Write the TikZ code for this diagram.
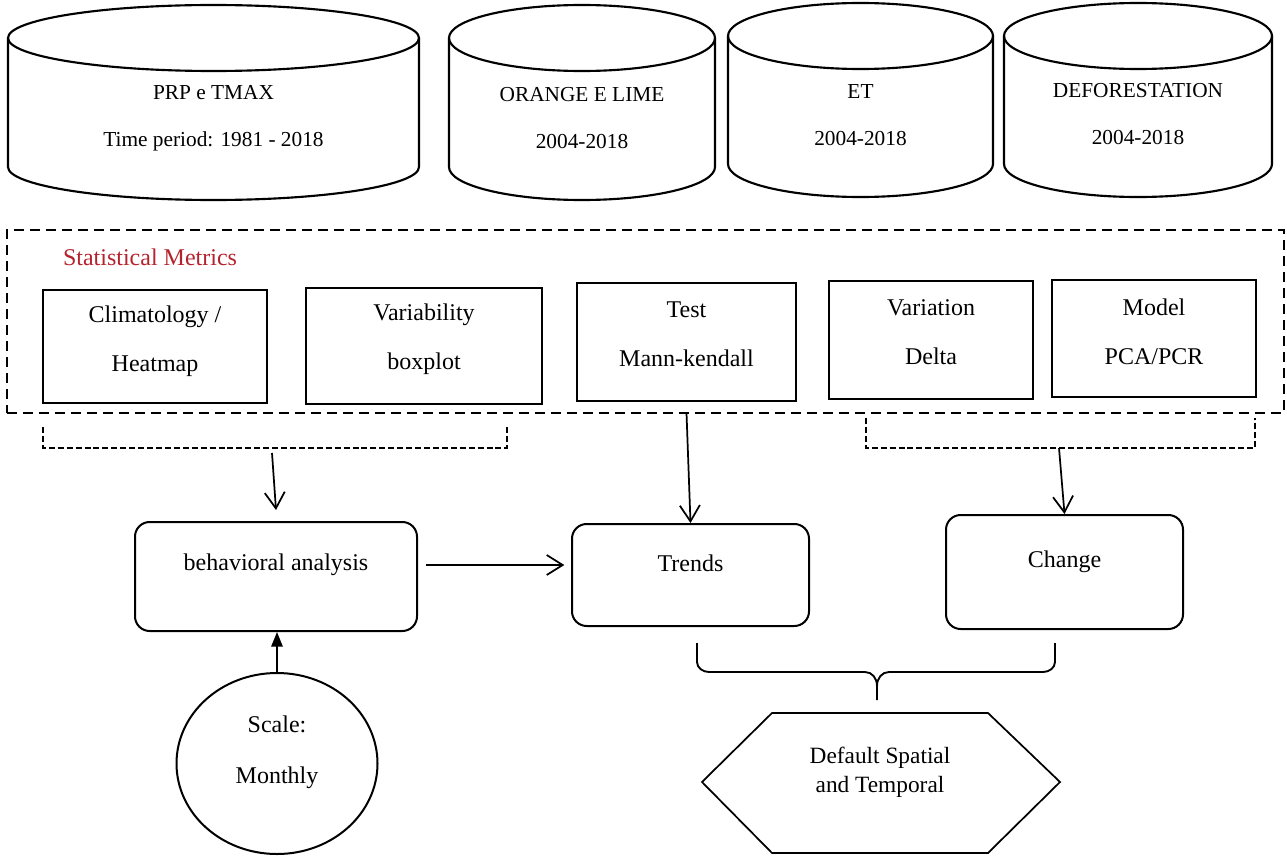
\documentclass[tikz,border=0pt]{standalone}
\usepackage{fontspec}
\setmainfont{Liberation Serif}
\usetikzlibrary{arrows.meta,shapes.geometric,calc}
\def\PX{0.75pt}
\definecolor{metred}{RGB}{180,35,45}
\tikzset{
 ln/.style={line width=1.4pt},
 cylline/.style={line width=1.6pt},
 cyltext/.style={font=\fontsize{16}{35}\selectfont, align=center, inner sep=0pt},
 mbox/.style={draw, line width=1.5pt, inner sep=0pt},
 mtext/.style={font=\fontsize{18}{37}\selectfont, align=center, inner sep=0pt},
 rbox/.style={draw, line width=1.5pt, rounded corners=11pt, inner sep=0pt},
 bigdash/.style={line width=1.6pt, dash pattern=on 7.5pt off 4.5pt},
 smalldash/.style={line width=1.2pt, dash pattern=on 4.5pt off 2.2pt},
 arr/.style={line width=1.3pt, -{Straight Barb[length=12pt,width=15pt,line width=1.3pt]}},
 tri/.style={line width=1.5pt, -{Triangle[length=11pt,width=8.5pt]}},
}
\newcommand{\drawcyl}[4]{%
  \pgfmathsetmacro\cylcx{(#1+#2)/2}%
  \pgfmathsetmacro\cylrx{(#2-#1)/2}%
  \draw[cylline] (\cylcx,#3) ellipse [x radius=\cylrx, y radius=33];
  \draw[cylline] (#1,#3) -- (#1,#4) .. controls (#1,#4+18.2) and (\cylcx-0.5523*\cylrx,#4+33) .. (\cylcx,#4+33) .. controls (\cylcx+0.5523*\cylrx,#4+33) and (#2,#4+18.2) .. (#2,#4) -- (#2,#3);
}
\begin{document}
\begin{tikzpicture}[x=0.75pt,y=-0.75pt]
\useasboundingbox (0,0) rectangle (1287,856);

% data stores
\drawcyl{8}{419}{38}{167}
\drawcyl{449}{715}{38}{167}
\drawcyl{728}{993}{36}{164}
\drawcyl{1004}{1272}{36}{164}
\node[cyltext] (prp) at (213.5,118.5) {PRP e TMAX\\Time period: 1981 - 2018};
\node[cyltext] (orange) at (582,118) {ORANGE E LIME\\2004-2018};
\node[cyltext] (et) at (860.5,115) {ET\\2004-2018};
\node[cyltext] (defo) at (1138,114) {DEFORESTATION\\2004-2018};

% statistical metrics group
\node[draw, bigdash, inner sep=0pt, minimum width=1277*\PX, minimum height=183*\PX] (metrics) at (645.5,321.5) {};
\node[font=\fontsize{18}{20}\selectfont, text=metred, inner sep=0pt] (smet) at (150,257) {Statistical Metrics};

\node[mbox, minimum width=224*\PX, minimum height=113*\PX] (clim) at (155,346) {};
\node[mtext] (climt) at (155,341.5) {Climatology /\\Heatmap};
\node[mbox, minimum width=236*\PX, minimum height=116*\PX] (varb) at (424,346) {};
\node[mtext] (varbt) at (424,339.5) {Variability\\boxplot};
\node[mbox, minimum width=219*\PX, minimum height=118*\PX] (test) at (686.5,342) {};
\node[mtext] (testt) at (686.5,334) {Test\\Mann-kendall};
\node[mbox, minimum width=204*\PX, minimum height=118*\PX] (vari) at (931,340) {};
\node[mtext] (varit) at (931,332) {Variation\\Delta};
\node[mbox, minimum width=204*\PX, minimum height=117*\PX] (model) at (1154,338.5) {};
\node[mtext] (modelt) at (1154,331.5) {Model\\PCA/PCR};

% dashed brackets
\coordinate (lb) at (272,448);
\coordinate (rb) at (1059,448);
\coordinate (tstart) at (686.5,413);
\draw[smalldash] (43,427) -- (43,448) -- (507,448) -- (507,427);
\draw[smalldash] (866,418) -- (866,448) -- (1255,448) -- (1255,418);

% analysis boxes
\node[rbox, minimum width=282*\PX, minimum height=109*\PX] (bb) at (276,576.5) {};
\node[mtext] (bbt) at (276,565) {behavioral analysis};
\node[rbox, minimum width=237*\PX, minimum height=102*\PX] (trends) at (690.5,575) {};
\node[mtext] (trendst) at (690.5,563) {Trends};
\node[rbox, minimum width=237*\PX, minimum height=114*\PX] (change) at (1064.5,572) {};
\node[mtext] (changet) at (1064.5,562) {Change};

% scale
\node[draw, ellipse, line width=1.5pt, inner sep=0pt, minimum width=201*\PX, minimum height=181*\PX] (scale) at (277,763.5) {};
\node[font=\fontsize{18}{38}\selectfont, align=center, inner sep=0pt] (scalet) at (277,752.5) {Scale:\\Monthly};

% output
\node[font=\fontsize{17.5}{22}\selectfont, align=center, inner sep=0pt] (hex) at (880,772) {Default Spatial\\and Temporal};
\draw[line width=1.3pt] (702,782) -- (772,713) -- (988,713) -- (1060,782) -- (988,853) -- (772,853) -- cycle;

% connectors
\draw[arr] ([yshift=-3.75pt]lb) -- ([yshift=8.25pt]bb.north);
\draw[arr] (tstart) -- (trends.north);
\draw[arr] (rb) -- (change.north);
\draw[arr] ([xshift=6pt]bb.east |- bbt) -- ([xshift=-5pt]trends.west |- bbt);
\draw[tri] (scale.north) -- (scale.north |- bb.south);

% brace
\coordinate (brl) at (697,643);
\coordinate (brr) at (1055,643);
\coordinate (brm) at (877,700);
\draw[ln] (brl) -- (697,662) .. controls (697,668) and (703,672) .. (709,672) -- (865,672) .. controls (872,672) and (877,678) .. (877,686) -- (brm);
\draw[ln] (877,686) .. controls (877,678) and (882,672) .. (889,672) -- (1043,672) .. controls (1049,672) and (1055,668) .. (1055,662) -- (brr);
\end{tikzpicture}
\end{document}
